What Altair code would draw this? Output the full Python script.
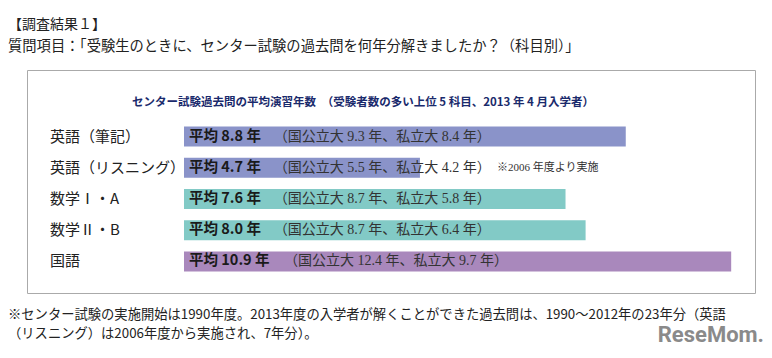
import altair as alt
import pandas as pd

# ---- data ----
subjects = ["英語（筆記）", "英語（リスニング）", "数学Ⅰ・A", "数学Ⅱ・B", "国語"]
groups = ["英語", "英語", "数学", "数学", "国語"]
avg_years = [8.8, 4.7, 7.6, 8.0, 10.9]
national_years = [9.3, 5.5, 8.7, 8.7, 12.4]
private_years = [8.4, 4.2, 5.8, 6.4, 9.7]
notes = ["", "※2006 年度より実施", "", "", ""]

group_names = ["英語", "数学", "国語"]
group_colors = ["#8a93c9", "#82cac6", "#a988bc"]

header_text = "【調査結果１】"
question_text = "質問項目：「受験生のときに、センター試験の過去問を何年分解きましたか？（科目別）」"
inner_title = "センター試験過去問の平均演習年数　（受験者数の多い上位 5 科目、2013 年 4 月入学者）"
foot_line1 = "※センター試験の実施開始は1990年度。2013年度の入学者が解くことができた過去問は、1990～2012年の23年分（英語"
foot_line2 = "（リスニング）は2006年度から実施され、7年分）。"
logo_text = "ReseMom."

df = pd.DataFrame({
    "subject": subjects,
    "group": groups,
    "avg": avg_years,
    "national": national_years,
    "private": private_years,
    "note": notes,
})
df["avg_label"] = ["平均 %.1f 年" % v for v in avg_years]
df["detail"] = ["（国公立大 %.1f 年、私立大 %.1f 年）" % (n, p) for n, p in zip(national_years, private_years)]

W, H = 756, 342
SANS = "Noto Sans CJK JP"
SERIF = "Liberation Serif, DejaVu Serif, Noto Sans CJK JP"

xscale = alt.Scale(domain=[0, 11], range=[176, 176 + 11 * 50.2], nice=False, zero=False)
yscale = alt.Scale(domain=subjects, range=[113, 269], paddingInner=0.36, paddingOuter=0.18)

base = alt.Chart(df).transform_calculate(
    zero="0",
    dpos="1.79 + 0.2 * (length(datum.avg_label) - 8)",
)

bars = base.mark_bar().encode(
    x=alt.X("avg:Q", scale=xscale, axis=None),
    y=alt.Y("subject:N", scale=yscale, axis=None, sort=subjects),
    color=alt.Color("group:N", scale=alt.Scale(domain=group_names, range=group_colors), legend=None),
)

subject_labels = base.mark_text(align="left", baseline="middle", fontSize=15, font=SANS, color="#222").encode(
    x=alt.value(42),
    y=alt.Y("subject:N", scale=yscale, axis=None, sort=subjects),
    text="subject:N",
)

avg_labels = base.mark_text(align="left", baseline="middle", dx=5, fontSize=14.5, fontWeight="bold",
                            font=SANS, color="#1a1a1a").encode(
    x=alt.X("zero:Q", scale=xscale, axis=None),
    y=alt.Y("subject:N", scale=yscale, axis=None, sort=subjects),
    text="avg_label:N",
)

detail_labels = base.mark_text(align="left", baseline="middle", fontSize=14, font=SERIF, color="#333").encode(
    x=alt.X("dpos:Q", scale=xscale, axis=None),
    y=alt.Y("subject:N", scale=yscale, axis=None, sort=subjects),
    text="detail:N",
)

note_labels = base.transform_filter("datum.note != ''").mark_text(
    align="left", baseline="middle", dx=313, fontSize=11, font=SERIF, color="#333").encode(
    x=alt.X("zero:Q", scale=xscale, axis=None),
    y=alt.Y("subject:N", scale=yscale, axis=None, sort=subjects),
    text="note:N",
)

one = pd.DataFrame({"k": [0]})

box = alt.Chart(one).mark_rect(fillOpacity=0, stroke="#aaaaaa", strokeWidth=1).encode(
    x=alt.value(19.5), x2=alt.value(747.5), y=alt.value(62.5), y2=alt.value(285.5)
)

def text_layer(txt, x, y, size, color="#222", weight="normal", font=SANS, align="left"):
    return alt.Chart(one).mark_text(align=align, baseline="middle", fontSize=size, fontWeight=weight,
                                    font=font, color=color).encode(
        x=alt.value(x), y=alt.value(y), text=alt.value(txt))

t_header = text_layer(header_text, 0, 17, 14)
t_question = text_layer(question_text, 0, 39, 14.3)
t_inner = text_layer(inner_title, 124, 95, 11.5, color="#1a2a6c", weight="bold")
t_foot1 = text_layer(foot_line1, 0, 307, 13.3)
t_foot2 = text_layer(foot_line2, 0, 326, 13.3)
t_logo = text_layer(logo_text, 756, 327, 22, color="#8a8a8a", weight="bold",
                    font="Liberation Sans Narrow, Roboto, DejaVu Sans", align="right")

chart = alt.layer(
    box, bars, subject_labels, avg_labels, detail_labels, note_labels,
    t_header, t_question, t_inner, t_foot1, t_foot2, t_logo
).properties(
    width=W, height=H, padding=0,
    autosize=alt.AutoSizeParams(type="none"),
    background="white",
).configure_view(stroke=None)

chart.save("out.html", embed_options={"renderer": "svg", "actions": False})
